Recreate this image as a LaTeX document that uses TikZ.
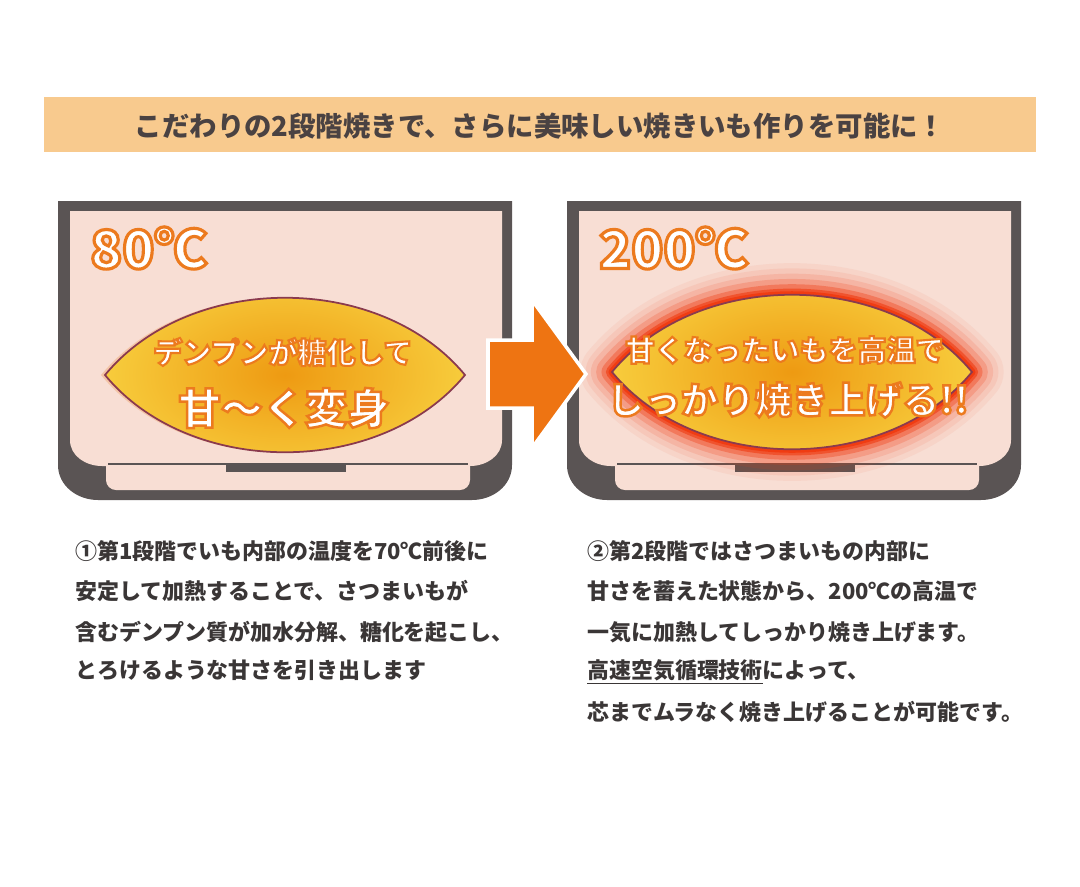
\documentclass[tikz,border=0pt]{standalone}
\usepackage{fontspec}
\setmainfont{Noto Sans CJK JP}
\definecolor{bannerfill}{HTML}{F8CA8E}
\definecolor{bannertext}{HTML}{4A4242}
\definecolor{framegray}{HTML}{5A5454}
\definecolor{ovenpink}{HTML}{F8DED4}
\definecolor{tempring}{HTML}{EC7A1E}
\definecolor{lensline}{HTML}{8A3A4E}
\definecolor{lensin}{HTML}{EE9A12}
\definecolor{lensout}{HTML}{F7CC3C}
\definecolor{glowred}{HTML}{F03A10}
\definecolor{arroworange}{HTML}{EE7412}
\definecolor{bodytext}{HTML}{3A3636}
% white letters with an orange stroke (fill+stroke render mode)
\newcommand{\ringtext}[2]{\special{pdf:code q 2 Tr #1 w 0.925 0.478 0.118 RG}#2\special{pdf:code Q}}
\tikzset{
  oventemp/.style={anchor=west,font=\fontsize{30}{30}\selectfont\bfseries,text=white},
  lenstext/.style={font=\fontsize{16.5}{20}\selectfont\bfseries,text=white},
  bodyline/.style={anchor=west,font=\fontsize{12.5}{15}\selectfont\bfseries,text=bodytext},
}
\newcommand{\lenspath}[2]{(#1,#2) .. controls (#1+85,#2-103) and (#1+275,#2-103) .. (#1+360,#2) .. controls (#1+275,#2+103) and (#1+85,#2+103) .. cycle}
\newcommand{\ovenbox}[1]{%
  \fill[framegray] (#1+58,201) -- (#1+512,201) -- (#1+512,465) to[out=-90,in=0] (#1+472,500) -- (#1+98,500) to[out=180,in=-90] (#1+58,465) -- cycle;
  \fill[ovenpink] (#1+70,211) -- (#1+502,211) -- (#1+502,440) to[out=-90,in=0] (#1+470,466) -- (#1+102,466) to[out=180,in=-90] (#1+70,440) -- cycle;
  \fill[ovenpink] (#1+106,466) -- (#1+470,466) -- (#1+470,480) to[out=-90,in=0] (#1+460,490) -- (#1+116,490) to[out=180,in=-90] (#1+106,480) -- cycle;
  \draw[framegray,line width=1.2pt] (#1+108,464) -- (#1+468,464);
  \fill[framegray] (#1+226,464) rectangle (#1+346,472);
}
\begin{document}
\begin{tikzpicture}[x=0.02cm,y=-0.02cm]
\useasboundingbox[fill=white] (0,0) rectangle (1080,887);

% Banner
\fill[bannerfill] (44,97) rectangle (1036,152);
\node[font=\fontsize{15.6}{18}\selectfont\bfseries,text=bannertext] (banner) at (540,126) {こだわりの2段階焼きで、さらに美味しい焼きいも作りを可能に！};

% Ovens
\ovenbox{0}
\ovenbox{509}

% Left sweet potato
\fill[tempring,opacity=0.25] \lenspath{101}{375};
\shade[inner color=lensin,outer color=lensout,draw=lensline,line width=1pt] \lenspath{105}{375};
\node[lenstext] (stepa) at (283,352) {\ringtext{1.2}{デンプンが糖化して}};
\node[lenstext,font=\fontsize{24}{26}\selectfont\bfseries] (stepab) at (284,408) {\ringtext{1.4}{甘～く変身}};

% Right sweet potato with glow
\foreach \w/\o in {36/0.06,30/0.08,24/0.12,18/0.2,12/0.35,7/0.6,4/0.9}
  \draw[glowred,line width=\w pt,opacity=\o,line join=round] \lenspath{612}{372};
\shade[inner color=lensin,outer color=lensout,draw=lensline,line width=1pt] \lenspath{612}{372};
\node[lenstext] (stepb) at (785,350) {\ringtext{1.2}{甘くなったいもを高温で}};
\node[lenstext,font=\fontsize{21}{24}\selectfont\bfseries] (stepbb) at (788,400) {\ringtext{1.4}{しっかり焼き上げる!!}};

% Temperatures
\node[oventemp] (tempa) at (84,248) {\ringtext{1.8}{80℃}};
\node[oventemp] (tempb) at (593,248) {\ringtext{1.8}{200℃}};

% Arrow
\draw[fill=arroworange,draw=white,line width=2pt,line join=miter]
  (488,340) -- (532,340) -- (532,300) -- (586,374) -- (532,448) -- (532,408) -- (488,408) -- cycle;

% Descriptions
\node[bodyline] (la) at (69,551) {①第1段階でいも内部の温度を70℃前後に};
\node[bodyline] (lb) at (69,591) {安定して加熱することで、さつまいもが};
\node[bodyline] (lc) at (69,632) {含むデンプン質が加水分解、糖化を起こし、};
\node[bodyline] (ld) at (69,670) {とろけるような甘さを引き出します};
\node[bodyline] (ra) at (581,551) {②第2段階ではさつまいもの内部に};
\node[bodyline] (rb) at (581,591) {甘さを蓄えた状態から、200℃の高温で};
\node[bodyline] (rc) at (581,632) {一気に加熱してしっかり焼き上げます。};
\node[bodyline] (rd) at (581,672) {\underline{高速空気循環技術}によって、};
\node[bodyline] (re) at (581,712) {芯までムラなく焼き上げることが可能です。};
\end{tikzpicture}
\end{document}
